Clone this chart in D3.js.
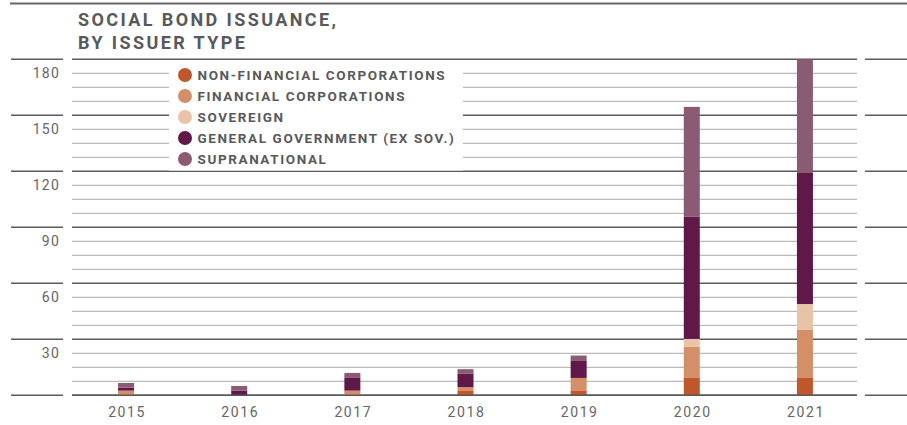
<!DOCTYPE html>
<html>
<head>
<meta charset="utf-8">
<script src="https://cdn.jsdelivr.net/npm/d3@7"></script>
<style>
  body { margin: 0; background: #fff; }
  svg { display: block; font-family: Roboto, "Liberation Sans", sans-serif; }
</style>
</head>
<body>
<div class="display"></div>
<script>
// values in USD bn
const years = ['2015', '2016', '2017', '2018', '2019', '2020', '2021'];
const nonFinancial = [0, 0, 0, 2.3, 2.3, 9.3, 9.3];
const financial = [2.5, 0, 2.5, 2.1, 7.0, 16.6, 25.7];
const sovereign = [0, 0, 0, 0, 0, 4.3, 13.9];
const generalGov = [1.6, 2.5, 6.8, 7.1, 9.1, 65.4, 70.2];
const supranational = [2.5, 2.5, 2.7, 2.5, 2.9, 58.9, 60.9];

const seriesNames = ['NON-FINANCIAL CORPORATIONS', 'FINANCIAL CORPORATIONS', 'SOVEREIGN', 'GENERAL GOVERNMENT (EX SOV.)', 'SUPRANATIONAL'];
const seriesKeys = ['nonFinancial', 'financial', 'sovereign', 'generalGov', 'supranational'];
const seriesColors = ['#c0572a', '#d58f68', '#e8c3a7', '#601848', '#8a5b73'];
const majorTicks = [0, 30, 60, 90, 120, 150, 180];

const width = 907;
const height = 425;

const rows = years.map((year, i) => ({
    year,
    nonFinancial: nonFinancial[i],
    financial: financial[i],
    sovereign: sovereign[i],
    generalGov: generalGov[i],
    supranational: supranational[i]
}));

const stacked = d3.stack().keys(seriesKeys)(rows);

const x = d3.scaleBand().domain(years).range([69.5, 861.5]);
const y = d3.scaleLinear().domain([0, 180]).range([395.3, 59.3]);
const barWidth = 16;

const svg = d3.select('.display')
    .append('svg')
    .attr('width', width)
    .attr('height', height);

// top rule
svg.append('line')
    .attr('x1', 10).attr('x2', width)
    .attr('y1', 3.5).attr('y2', 3.5)
    .attr('stroke', '#666')
    .attr('stroke-width', 2);

// title
const title = svg.append('text')
    .attr('x', 78)
    .attr('fill', '#58595b')
    .attr('font-size', 18)
    .attr('font-weight', 700)
    .attr('letter-spacing', 2.4);
title.append('tspan').attr('x', 78).attr('y', 26).text('SOCIAL BOND ISSUANCE,');
title.append('tspan').attr('x', 78).attr('y', 49).text('BY ISSUER TYPE');

// minor grid, every 7.5
const minorTicks = d3.range(7.5, 180, 7.5).filter(v => v % 30 !== 0);
svg.append('g')
    .selectAll('line')
    .data(minorTicks)
    .enter()
    .append('line')
    .attr('x1', 72).attr('x2', 857)
    .attr('y1', d => y(d)).attr('y2', d => y(d))
    .attr('stroke', '#aaa')
    .attr('stroke-width', 1);

// major grid in three pieces
const segments = [[11, 63], [72, 857], [865, width]];
segments.forEach(([x1, x2]) => {
    svg.append('g')
        .selectAll('line')
        .data(majorTicks)
        .enter()
        .append('line')
        .attr('x1', x1).attr('x2', x2)
        .attr('y1', d => y(d)).attr('y2', d => y(d))
        .attr('stroke', '#58595b')
        .attr('stroke-width', 1.6);
});

// y labels sit one minor step below their line
const labelOffset = y(0) - y(7.5);
svg.append('g')
    .selectAll('text')
    .data(majorTicks.filter(d => d > 0))
    .enter()
    .append('text')
    .attr('x', 60)
    .attr('y', d => y(d) + labelOffset)
    .attr('dy', '0.35em')
    .attr('text-anchor', 'end')
    .attr('fill', '#666')
    .attr('font-size', 14)
    .attr('letter-spacing', 1.2)
    .text(d => d);

// legend
svg.append('rect')
    .attr('x', 169).attr('y', 60.5)
    .attr('width', 294).attr('height', 110)
    .attr('fill', '#fff');

const legend = svg.append('g')
    .selectAll('g')
    .data(seriesNames)
    .enter()
    .append('g')
    .attr('transform', (_, i) => `translate(185, ${75 + i * 21})`);
legend.append('circle')
    .attr('r', 7)
    .attr('fill', (_, i) => seriesColors[i]);
legend.append('text')
    .attr('x', 12.5)
    .attr('dy', '0.36em')
    .attr('fill', '#58595b')
    .attr('font-size', 13.5)
    .attr('font-weight', 700)
    .attr('letter-spacing', 1.6)
    .text(d => d);

// bars
svg.append('g')
    .selectAll('g')
    .data(stacked)
    .enter()
    .append('g')
    .attr('fill', (_, i) => seriesColors[i])
    .selectAll('rect')
    .data(d => d)
    .enter()
    .append('rect')
    .attr('x', d => x(d.data.year) + x.bandwidth() / 2 - barWidth / 2)
    .attr('y', d => y(d[1]))
    .attr('width', barWidth)
    .attr('height', d => y(d[0]) - y(d[1]));

// baseline drawn over bars
svg.append('line')
    .attr('x1', 72).attr('x2', 857)
    .attr('y1', y(0)).attr('y2', y(0))
    .attr('stroke', '#58595b')
    .attr('stroke-width', 1.6);

// x labels
svg.append('g')
    .selectAll('text')
    .data(years)
    .enter()
    .append('text')
    .attr('x', d => x(d) + x.bandwidth() / 2 + 1)
    .attr('y', 416.5)
    .attr('text-anchor', 'middle')
    .attr('fill', '#666')
    .attr('font-size', 14)
    .attr('letter-spacing', 1.6)
    .text(d => d);
</script>
</body>
</html>
